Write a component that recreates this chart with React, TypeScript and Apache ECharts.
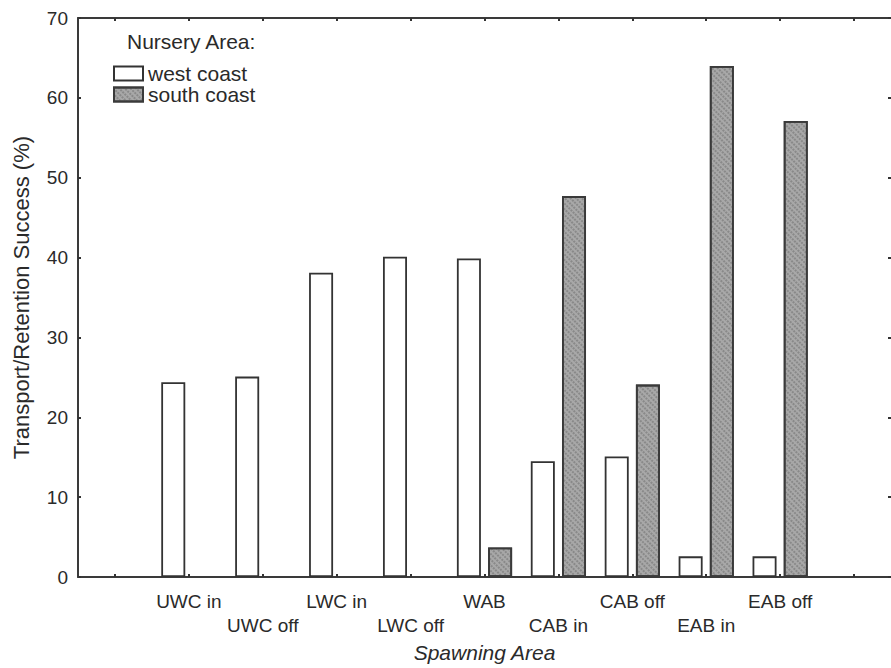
import React, { useEffect, useRef } from "react";
import * as echarts from "echarts";

const categories = ["", "UWC in", "UWC off", "LWC in", "LWC off", "WAB", "CAB in", "CAB off", "EAB in", "EAB off", ""];
const westCoast = [null, 24.4, 25.1, 38.1, 40.1, 39.9, 14.5, 15.1, 2.6, 2.6, null];
const southCoast = [null, null, null, null, null, 3.7, 47.7, 24.1, 64.0, 57.1, null];
const yTicks = { min: 0, max: 70, interval: 10 };

const FONT = "'Liberation Sans', Arial, Helvetica, sans-serif";
const TXT = "#2a2a2a";

export default function App() {
  const ref = useRef<HTMLDivElement>(null);
  useEffect(() => {
    if (!ref.current) return;
    const chart = echarts.init(ref.current, null, { renderer: "svg" });
    const axisLine = { show: true, onZero: false, lineStyle: { color: "#3a3a3a", width: 2 } };
    const tick = { show: true, inside: true, length: 3, lineStyle: { color: "#333", width: 2 } };
    chart.setOption({
      animation: false,
      backgroundColor: "#fff",
      textStyle: { fontFamily: FONT },
      grid: {
        left: 78,
        top: 18,
        right: -2,
        bottom: 84,
        containLabel: false,
      },
      legend: {
        orient: "vertical",
        left: 113,
        top: 63,
        padding: 0,
        itemWidth: 29,
        itemHeight: 14,
        itemGap: 0,
        icon: "rect",
        textStyle: { fontSize: 21, color: TXT, fontFamily: FONT, lineHeight: 20 },
        data: ["west coast", "south coast"],
      },
      graphic: [
        {
          type: "text",
          left: 127,
          top: 31,
          style: { text: "Nursery Area:", fontSize: 21, fill: TXT, fontFamily: FONT },
        },
      ],
      xAxis: [
        {
          type: "category",
          data: categories,
          position: "bottom",
          axisLine,
          axisTick: { ...tick, alignWithLabel: true },
          axisLabel: {
            interval: 0,
            fontSize: 19,
            color: TXT,
            fontFamily: FONT,
            margin: 12,
            lineHeight: 24,
            formatter: (v: string, i: number) => (i % 2 === 0 ? "\n" + v : v),
          },
          name: "Spawning Area",
          nameLocation: "middle",
          nameGap: 70,
          nameTextStyle: { fontSize: 21, fontStyle: "italic", color: TXT, fontFamily: FONT, verticalAlign: "middle" },
          splitLine: { show: false },
        },
        {
          type: "category",
          data: categories,
          position: "top",
          axisLine,
          axisTick: { ...tick, alignWithLabel: true },
          axisLabel: { show: false },
          splitLine: { show: false },
        },
      ],
      yAxis: [
        {
          type: "value",
          min: yTicks.min,
          max: yTicks.max,
          interval: yTicks.interval,
          position: "left",
          axisLine,
          axisTick: tick,
          axisLabel: { fontSize: 19, color: TXT, fontFamily: FONT, margin: 10 },
          splitLine: { show: false },
          name: "Transport/Retention Success (%)",
          nameLocation: "middle",
          nameGap: 57,
          nameRotate: 90,
          nameTextStyle: { fontSize: 22, color: TXT, fontFamily: FONT, verticalAlign: "middle" },
        },
        {
          type: "value",
          min: yTicks.min,
          max: yTicks.max,
          interval: yTicks.interval,
          position: "right",
          axisLine: { show: true, onZero: false, lineStyle: { color: "#c8c8c8", width: 1 } },
          axisTick: tick,
          axisLabel: { show: false },
          splitLine: { show: false },
        },
      ],
      series: [
        {
          name: "west coast",
          type: "bar",
          data: westCoast,
          barWidth: 24,
          barGap: "30%",
          itemStyle: { color: "#ffffff", borderColor: "#333", borderWidth: 1.8 },
        },
        {
          name: "south coast",
          type: "bar",
          data: southCoast,
          barWidth: 24,
          barGap: "30%",
          itemStyle: {
            color: "#a8a8a8",
            borderColor: "#3a3a3a",
            borderWidth: 1.8,
            decal: {
              symbol: "rect",
              symbolSize: 0.8,
              dashArrayX: [2, 1],
              dashArrayY: [2, 2],
              rotation: 0.785,
              color: "rgba(70,70,70,0.55)",
            },
          },
        },
      ],
    });
    return () => chart.dispose();
  }, []);
  return <div ref={ref} style={{ width: 891, height: 668, position: "absolute", left: 0, top: 0 }} />;
}
